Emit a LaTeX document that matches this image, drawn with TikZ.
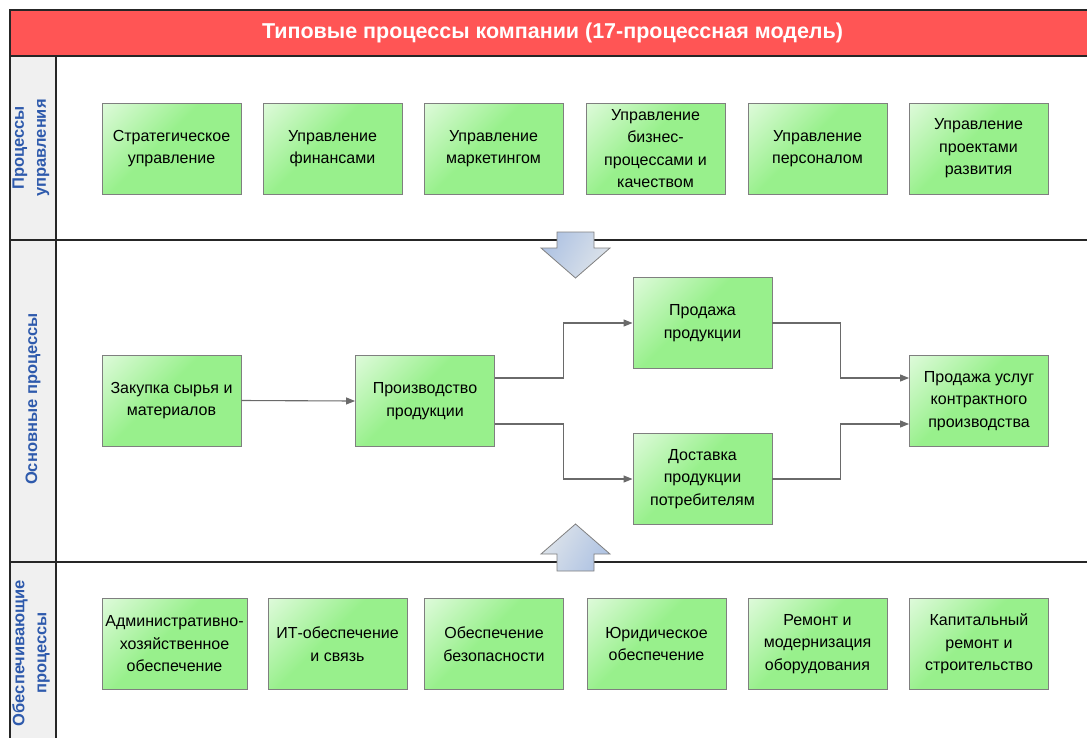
\documentclass[tikz,border=0pt]{standalone}
\usepackage{fontspec}
\setmainfont{Liberation Sans}
\usetikzlibrary{arrows.meta,calc}
\definecolor{boxgreen}{HTML}{98F08C}
\definecolor{boxborder}{HTML}{7F7F7F}
\definecolor{titlered}{HTML}{FF5555}
\definecolor{lanegray}{HTML}{F0F0F0}
\definecolor{laneblue}{HTML}{2E5AAC}
\definecolor{conngray}{HTML}{6A6A6A}
\definecolor{arrowblue}{HTML}{AFC3E3}
\definecolor{arrowlight}{HTML}{DEE4EA}
\pgfdeclareverticalshading{boxshade}{100bp}{color(0bp)=(boxgreen); color(55bp)=(boxgreen); color(75bp)=(boxgreen!55!white); color(100bp)=(white)}
\tikzset{
  proc/.style={draw=boxborder, line width=0.9pt, shading=boxshade, shading angle=45,
    minimum width=139pt, minimum height=91pt, inner sep=2pt, align=center,
    font=\fontsize{16}{22.5}\selectfont, text=black},
  conn/.style={draw=conngray, line width=1.1pt, -{Triangle[length=9pt,width=7pt]}},
  laneline/.style={draw=black!85, line width=1.5pt},
  lanelabel/.style={rotate=90, align=center, text=laneblue, font=\fontsize{16.5}{22}\selectfont\bfseries},
  blockarrow/.style={draw=black!50, line width=0.8pt}
}
\begin{document}
\begin{tikzpicture}[x=1pt,y=-1pt]
\useasboundingbox (0,0) rectangle (1087,737);
\begin{scope}
\clip (0,0) rectangle (1087,737);
% label column
\fill[lanegray] (10,56) rectangle (56,760);
% title bar
\fill[titlered] (10,10) rectangle (1100,56);
\draw[laneline] (1100,10) -- (10,10) -- (10,760);
\draw[laneline] (10,56) -- (1100,56);
\draw[laneline] (56,56) -- (56,760);
\draw[laneline] (10,240) -- (1100,240);
\draw[laneline] (10,562) -- (1100,562);
\end{scope}
\node[text=white, font=\fontsize{21.5}{24}\selectfont\bfseries] (title) at (552.5,33) {Типовые процессы компании (17-процессная модель)};
% lane labels
\node[lanelabel] (l1) at (31,148) {Процессы\\управления};
\node[lanelabel] (l2) at (33,399) {Основные процессы};
\node[lanelabel] (l3) at (31,653) {Обеспечивающие\\процессы};
% top row
\node[proc] (m1) at (171.5,148.5) {Стратегическое\\управление};
\node[proc] (m2) at (332.5,148.5) {Управление\\финансами};
\node[proc] (m3) at (493.5,148.5) {Управление\\маркетингом};
\node[proc] (m4) at (655.5,148.5) {Управление\\бизнес-\\процессами и\\качеством};
\node[proc] (m5) at (817.5,148.5) {Управление\\персоналом};
\node[proc] (m6) at (978.5,148.5) {Управление\\проектами\\развития};
% middle
\node[proc] (zak) at (171.5,400.5) {Закупка сырья и\\материалов};
\node[proc] (prod) at (425,401) {Производство\\продукции};
\node[proc] (sale) at (702.5,323) {Продажа\\продукции};
\node[proc] (deliv) at (702.5,479) {Доставка\\продукции\\потребителям};
\node[proc] (svc) at (979,401) {Продажа услуг\\контрактного\\производства};
% bottom row
\node[proc, minimum width=145pt] (s1) at (174.5,644) {Административно-\\хозяйственное\\обеспечение};
\node[proc] (s2) at (337.5,644) {ИТ-обеспечение\\и связь};
\node[proc] (s3) at (494,644) {Обеспечение\\безопасности};
\node[proc] (s4) at (656.5,644) {Юридическое\\обеспечение};
\node[proc] (s5) at (817.5,644) {Ремонт и\\модернизация\\оборудования};
\node[proc] (s6) at (979,644) {Капитальный\\ремонт и\\строительство};
% connectors
\draw[conn] (zak.east) -- (prod.west);
\draw[conn] ([yshift=23pt]prod.east) -- ++(68.5,0) |- (sale.west);
\draw[conn] ([yshift=-23pt]prod.east) -- ++(68.5,0) |- (deliv.west);
\draw[conn] (sale.east) -- ++(68,0) |- ([yshift=23pt]svc.west);
\draw[conn] (deliv.east) -- ++(68,0) |- ([yshift=-23pt]svc.west);
% block arrows
\draw[blockarrow, left color=arrowblue, right color=arrowlight, shading angle=60]
  (557,232) -- (594,232) -- (594,248) -- (610,248) -- (575.5,278) -- (541,248) -- (557,248) -- cycle;
\draw[blockarrow, left color=arrowlight, right color=arrowblue, shading angle=60]
  (557,571) -- (594,571) -- (594,554) -- (610,554) -- (575.5,524) -- (541,554) -- (557,554) -- cycle;
\end{tikzpicture}
\end{document}
